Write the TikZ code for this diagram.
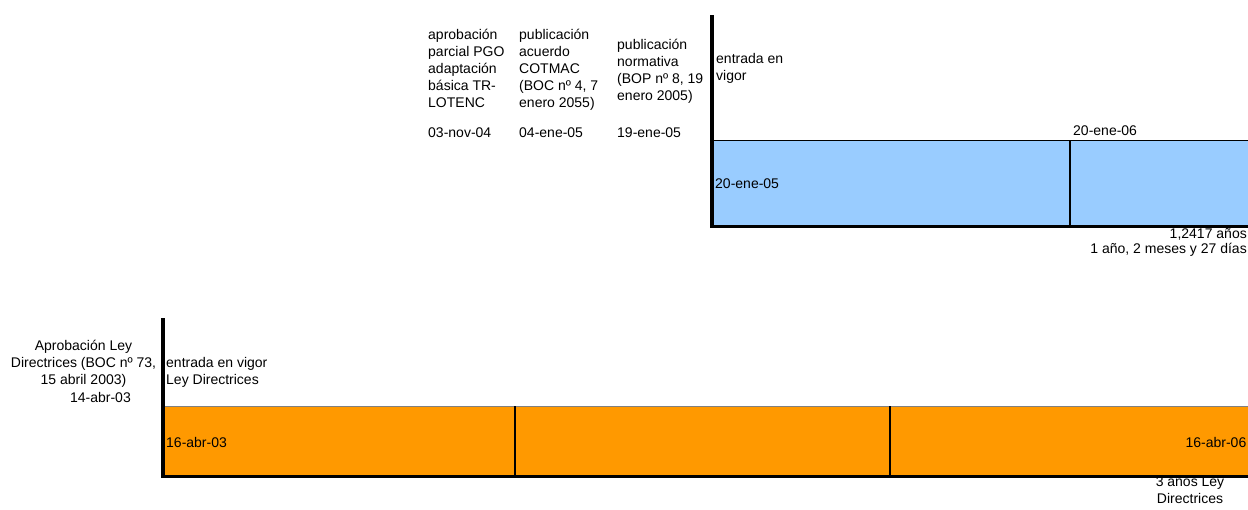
\documentclass[tikz,border=0pt]{standalone}
\usepackage{fontspec}
\setmainfont{Liberation Sans}
\definecolor{barblue}{HTML}{99CCFF}
\definecolor{barorange}{HTML}{FF9900}
\begin{document}
\begin{tikzpicture}[x=1pt, y=-1pt, font=\fontsize{14}{16.8}\selectfont,
    lbl/.style={inner sep=0pt, align=left, anchor=base west}]
    \useasboundingbox (0,0) rectangle (1248,509);
    % periodo PGO
    \fill[barblue] (712,140) rectangle (1248,226);
    \draw[line width=1pt] (712,140)--(1248,140);
    \draw[line width=1.5pt] (1070,140)--(1070,226);
    \draw[line width=3pt] (712,226)--(1248,226);
    \draw[line width=4pt] (712,15)--(712,227.5);
    \node[lbl] (pgo) at (428,107) {aprobación\\parcial PGO\\adaptación\\básica TR-\\LOTENC};
    \node[lbl] (cotmac) at (519,107) {publicación\\acuerdo\\COTMAC\\(BOC nº 4, 7\\enero 2055)};
    \node[lbl] (bop) at (617,100) {publicación\\normativa\\(BOP nº 8, 19\\enero 2005)};
    \node[lbl] (vigor1) at (716,80) {entrada en\\vigor};
    \node[lbl] (fpgo) at (428,137) {03-nov-04};
    \node[lbl] (fcotmac) at (519,137) {04-ene-05};
    \node[lbl] (fbop) at (617,137) {19-ene-05};
    \node[lbl] (fin1) at (1073,135) {20-ene-06};
    \node[lbl] (ini1) at (715,188) {20-ene-05};
    \node[lbl, anchor=base east] (dur1) at (1247,238) {1,2417 años};
    \node[lbl, anchor=base east] (dias1) at (1247,253) {1 año, 2 meses y 27 días};
    % periodo Ley Directrices
    \fill[barorange] (163,406) rectangle (1248,476);
    \draw[gray, line width=1pt] (163,406)--(1248,406);
    \draw[line width=1.5pt] (515,406)--(515,476);
    \draw[line width=1.5pt] (890,406)--(890,476);
    \draw[line width=3pt] (163,476)--(1248,476);
    \draw[line width=4pt] (163,318)--(163,477.5);
    \node[lbl, align=center, anchor=base] (ley) at (83.5,384) {Aprobación Ley\\Directrices (BOC nº 73,\\15 abril 2003)};
    \node[lbl, anchor=base east] (fley) at (131,402) {14-abr-03};
    \node[lbl] (vigor2) at (166,384) {entrada en vigor\\Ley Directrices};
    \node[lbl] (ini2) at (166,447) {16-abr-03};
    \node[lbl, anchor=base east] (fin2) at (1246.5,447) {16-abr-06};
    \node[lbl, align=center, anchor=base] (dur2) at (1190,503) {3 años Ley\\Directrices};
\end{tikzpicture}
\end{document}
